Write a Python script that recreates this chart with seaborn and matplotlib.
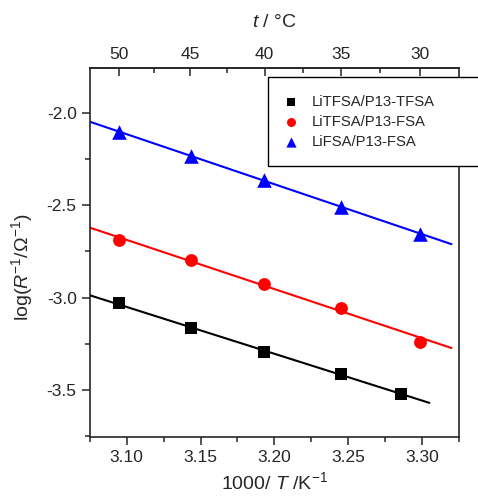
import numpy as np
import pandas as pd
import matplotlib
matplotlib.use("Agg")
import matplotlib.pyplot as plt
from matplotlib.ticker import MultipleLocator, FixedLocator
import seaborn as sns

# =====================
# DATA
# =====================
labels = ["LiTFSA/P13-TFSA", "LiTFSA/P13-FSA", "LiFSA/P13-FSA"]
x_tfsa = [3.0945, 3.1433, 3.1933, 3.2452, 3.2860]
y_tfsa = [-3.031, -3.166, -3.293, -3.413, -3.521]
x_tfsa_fsa = [3.0945, 3.1433, 3.1933, 3.2452, 3.2987]
y_tfsa_fsa = [-2.689, -2.798, -2.924, -3.054, -3.238]
x_fsa = [3.0945, 3.1433, 3.1933, 3.2452, 3.2987]
y_fsa = [-2.105, -2.232, -2.364, -2.509, -2.656]
# range of the fitted lines
fit_end = [3.305, 3.320, 3.320]
top_ticks = [50, 45, 40, 35, 30]
top_minor = [47.5, 42.5, 37.5, 32.5]

colors = ["black", "red", "blue"]
markers = ["s", "o", "^"]
sizes = [70, 85, 110]

sns.set_style("ticks")
plt.rcParams["font.family"] = ["Liberation Sans", "DejaVu Sans"]
plt.rcParams["mathtext.fontset"] = "custom"
plt.rcParams["mathtext.rm"] = "Liberation Sans"
plt.rcParams["mathtext.it"] = "Liberation Sans:italic"

df = pd.DataFrame({
    "x": x_tfsa + x_tfsa_fsa + x_fsa,
    "y": y_tfsa + y_tfsa_fsa + y_fsa,
    "sample": [labels[0]] * 5 + [labels[1]] * 5 + [labels[2]] * 5,
})

fig = plt.figure(figsize=(4.78, 4.96), dpi=100)
ax = fig.add_axes([0.188, 0.119, 0.772, 0.744])

XMIN, XMAX = 3.075, 3.325
ax.set_xlim(XMIN, XMAX)
ax.set_ylim(-3.754, -1.758)

# fitted lines
for i, lab in enumerate(labels):
    sub = df[df["sample"] == lab]
    k, b = np.polyfit(sub["x"], sub["y"], 1)
    xl = np.array([XMIN, fit_end[i]])
    sns.lineplot(x=xl, y=k * xl + b, color=colors[i], lw=1.5, ax=ax, legend=False)

for i, lab in enumerate(labels):
    sub = df[df["sample"] == lab]
    sns.scatterplot(data=sub, x="x", y="y", color=colors[i], marker=markers[i],
                    s=sizes[i], edgecolor=colors[i], linewidth=0, ax=ax,
                    label=lab, zorder=3)

ax.xaxis.set_major_locator(MultipleLocator(0.05))
ax.xaxis.set_minor_locator(MultipleLocator(0.025))
ax.yaxis.set_major_locator(MultipleLocator(0.5))
ax.yaxis.set_minor_locator(MultipleLocator(0.25))
ax.xaxis.set_major_formatter(matplotlib.ticker.FormatStrFormatter("%.2f"))
ax.yaxis.set_major_formatter(matplotlib.ticker.FormatStrFormatter("%.1f"))
ax.tick_params(which="major", direction="out", length=6, width=1.1, labelsize=12.5)
ax.tick_params(which="minor", direction="out", length=3.5, width=1.1)
for sp in ax.spines.values():
    sp.set_linewidth(1.2)
    sp.set_visible(True)

ax.set_xlabel("1000/ $T$ /K$^{-1}$", fontsize=14, labelpad=4)
ax.set_ylabel("log($R^{-1}$/Ω$^{-1}$)", fontsize=14)
ax.yaxis.set_label_coords(-0.15, 0.46)


def k2c(x):
    return 1000.0 / np.asarray(x, dtype=float) - 273.15


def c2k(t):
    return 1000.0 / (np.asarray(t, dtype=float) + 273.15)


top = ax.secondary_xaxis("top", functions=(k2c, c2k))
top.xaxis.set_major_locator(FixedLocator(top_ticks))
top.xaxis.set_minor_locator(FixedLocator(top_minor))
top.tick_params(which="major", direction="in", length=6, width=1.1, labelsize=12.5, pad=4)
top.tick_params(which="minor", direction="in", length=3.5, width=1.1)
top.spines["top"].set_linewidth(1.2)
top.set_xlabel("$t$ / °C", fontsize=14, labelpad=15)

leg = ax.legend(loc="upper left", bbox_to_anchor=(0.482, 0.976, 0.6, 0.0),
                mode="expand", fontsize=10.7, frameon=True, fancybox=False,
                edgecolor="black", framealpha=1, borderpad=1.2, labelspacing=0.4,
                handletextpad=1.05, handlelength=0.7, markerscale=0.7,
                borderaxespad=0)
leg.get_frame().set_linewidth(1.0)
leg.set_zorder(5)

fig.savefig("out.png", dpi=100)
